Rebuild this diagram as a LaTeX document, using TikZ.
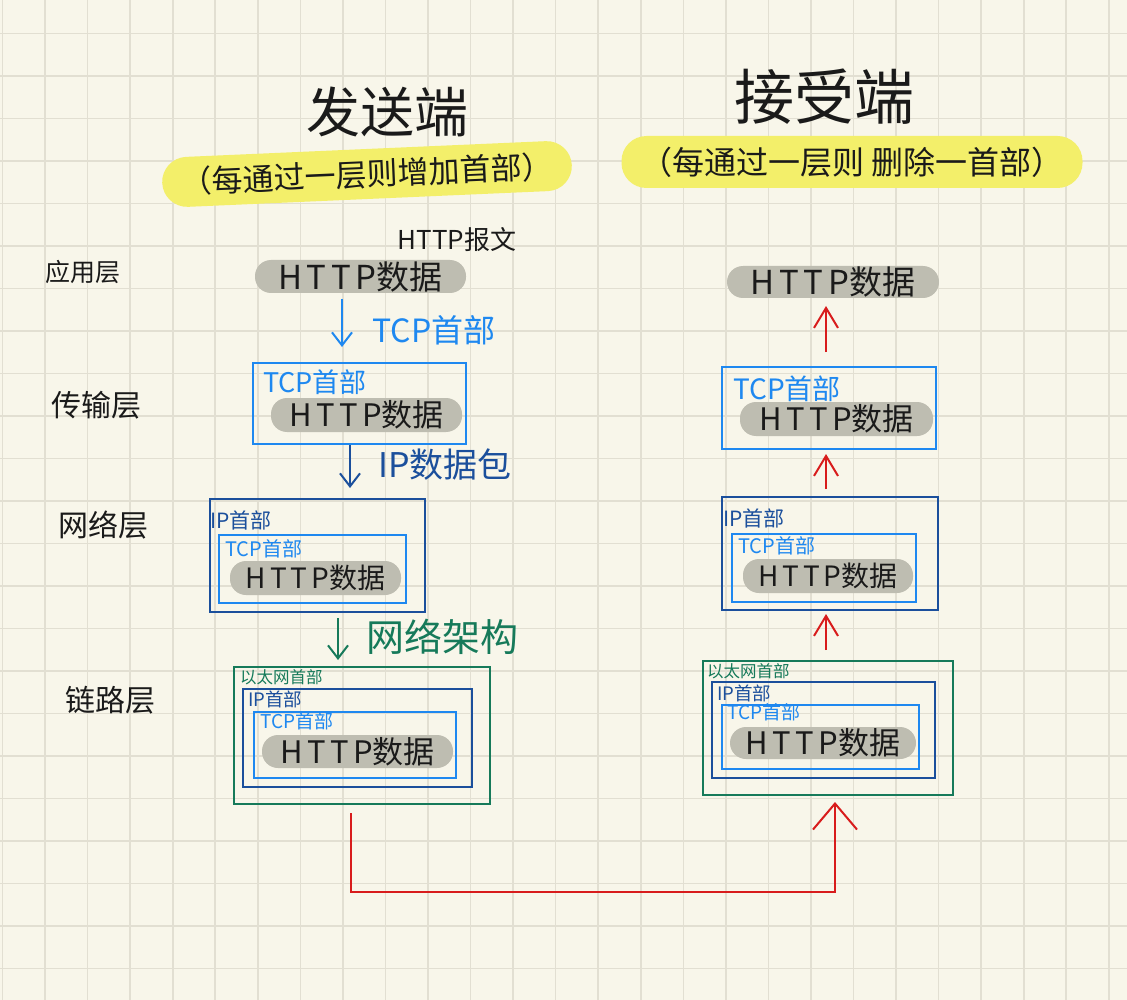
\documentclass[tikz,border=0pt]{standalone}
\usepackage{fontspec}
\newfontfamily\cjk{Noto Sans CJK SC}
\usepackage{xcolor}
\definecolor{paper}{HTML}{F8F6EA}
\definecolor{gridc}{HTML}{E2DFD2}
\definecolor{pill}{HTML}{BEBDB1}
\definecolor{ink}{HTML}{1A1A1A}
\definecolor{tcpc}{HTML}{1E88F0}
\definecolor{ipc}{HTML}{1B4F9C}
\definecolor{ethc}{HTML}{167A5A}
\definecolor{redc}{HTML}{D81C1C}
\definecolor{hl}{HTML}{F3EF6A}
\newcommand\spacedtxt[1]{{\addfontfeature{LetterSpace=14}#1}}
\usetikzlibrary{arrows.meta}
\tikzset{
  gridln/.style={draw=gridc,line width=1.6pt},
  title/.style={text=ink,inner sep=0pt},
  hilite/.style={fill=hl,rounded corners=25pt,inner sep=0pt,text=ink,font=\cjk\fontsize{31}{34}\selectfont},
  lyr/.style={text=ink,inner sep=0pt,font=\cjk\fontsize{30}{34}\selectfont},
  pillA/.style={fill=pill,rounded corners=16pt,inner sep=0pt,outer sep=0pt,text=ink,font=\cjk\fontsize{33}{36}\selectfont},
  pillB/.style={pillA,font=\cjk\fontsize{31}{34}\selectfont},
  pillC/.style={pillA,font=\cjk\fontsize{28}{32}\selectfont},
  boxfr/.style={draw,line width=2pt,inner sep=0pt,outer sep=0pt},
  tcpfr/.style={boxfr,draw=tcpc},
  ipfr/.style={boxfr,draw=ipc},
  ethfr/.style={boxfr,draw=ethc},
  hdr/.style={anchor=west,inner sep=0pt,font=\cjk\fontsize{20}{24}\selectfont},
  note/.style={inner sep=0pt,font=\cjk\fontsize{32}{36}\selectfont},
  downarr/.style={-{Straight Barb[length=13pt,width=20pt]},line width=2pt},
  uparr/.style={-{Straight Barb[length=20pt,width=24pt]},draw=redc,line width=2pt},
  bigarr/.style={-{Straight Barb[length=26pt,width=44pt]},draw=redc,line width=2pt},
}
\begin{document}
\begin{tikzpicture}[x=1pt,y=-1pt]
\useasboundingbox (0,0) rectangle (1127,1000);
\fill[paper] (0,0) rectangle (1127,1000);
\foreach \i in {0,...,26}
  \draw[gridln] ({2.5+42.55*\i},0) -- ({2.5+42.55*\i},1000);
\foreach \j in {0,...,22}
  \draw[gridln] (0,{33.5+42.5*\j}) -- (1127,{33.5+42.5*\j});

% titles
\node[title,font=\cjk\fontsize{54}{60}\selectfont] (sendT) at (387,112) {发送端};
\node[title,font=\cjk\fontsize{60}{66}\selectfont] (recvT) at (824,97) {接受端};
\node[hilite,rotate=2.5,minimum width=410pt,minimum height=50pt] (noteL) at (367,174) {（每通过一层则增加首部）};
\node[hilite,minimum width=461pt,minimum height=52pt,font=\cjk\fontsize{32}{36}\selectfont] (noteR) at (852,162) {（每通过一层则 删除一首部）};

% layers
\node[lyr,font=\cjk\fontsize{25}{30}\selectfont] (app) at (83,272) {应用层};
\node[lyr] (trans) at (96,405) {传输层};
\node[lyr] (net) at (103,525) {网络层};
\node[lyr] (link) at (110,700) {链路层};

% sender
\node[lyr,font=\cjk\fontsize{26}{30}\selectfont] (msg) at (457,240) {HTTP报文};
\node[pillA,minimum width=211pt,minimum height=33pt] (appL) at (360.5,276.5) {\spacedtxt{HTTP}数据};

\node[tcpfr,minimum width=213pt,minimum height=81pt] (tcpL) at (359.5,403.5) {};
\node[pillB,minimum width=191pt,minimum height=34pt] (tcpLd) at (366.5,415) {\spacedtxt{HTTP}数据};
\node[hdr,text=tcpc,font=\cjk\fontsize{27}{30}\selectfont] (tcpLh) at (263,382) {TCP首部};

\node[ipfr,minimum width=215pt,minimum height=113pt] (ipL) at (317.5,555.5) {};
\node[tcpfr,minimum width=187pt,minimum height=68pt] (ipLt) at (312.5,569) {};
\node[pillC,minimum width=171pt,minimum height=34pt] (ipLd) at (315.5,578) {\spacedtxt{HTTP}数据};
\node[hdr,text=ipc,font=\cjk\fontsize{21}{24}\selectfont] (ipLh) at (210,520) {IP首部};
\node[hdr,text=tcpc] (ipLth) at (225,549) {TCP首部};

\node[ethfr,minimum width=256pt,minimum height=137pt] (ethL) at (362,735.5) {};
\node[ipfr,minimum width=229pt,minimum height=98pt] (ethLi) at (357.5,738) {};
\node[tcpfr,minimum width=202pt,minimum height=66pt] (ethLt) at (355,745) {};
\node[pillB,minimum width=191pt,minimum height=33pt] (ethLd) at (357.5,751.5) {\spacedtxt{HTTP}数据};
\node[hdr,text=ethc,font=\cjk\fontsize{16.5}{20}\selectfont] (ethLh) at (240,677) {以太网首部};
\node[hdr,text=ipc,font=\cjk\fontsize{18.5}{22}\selectfont] (ethLih) at (248,699) {IP首部};
\node[hdr,text=tcpc,font=\cjk\fontsize{19}{22}\selectfont] (ethLth) at (260,721) {TCP首部};

\draw[downarr,draw=tcpc] ([xshift=-18.5pt,yshift=-6pt]appL.south) -- ([xshift=-17.5pt,yshift=16pt]tcpL.north);
\node[note,text=tcpc] (addTcp) at (434,330) {TCP首部};
\draw[downarr,draw=ipc] ([xshift=-9.5pt,yshift=-1pt]tcpL.south) -- ([xshift=32.5pt,yshift=11pt]ipL.north);
\node[note,text=ipc,font=\cjk\fontsize{34}{38}\selectfont] (addIp) at (445,465) {IP数据包};
\draw[downarr,draw=ethc] ([xshift=20.5pt,yshift=-6pt]ipL.south) -- ([xshift=-24pt,yshift=7pt]ethL.north);
\node[note,text=ethc,font=\cjk\fontsize{38}{42}\selectfont] (addEth) at (442,637) {网络架构};

% receiver
\node[pillA,minimum width=212pt,minimum height=32pt] (appR) at (833,282) {\spacedtxt{HTTP}数据};

\node[tcpfr,minimum width=214pt,minimum height=82pt] (tcpR) at (829,408) {};
\node[pillB,minimum width=193pt,minimum height=34pt] (tcpRd) at (836.5,419) {\spacedtxt{HTTP}数据};
\node[hdr,text=tcpc,font=\cjk\fontsize{28}{30}\selectfont] (tcpRh) at (733,389) {TCP首部};

\node[ipfr,minimum width=216pt,minimum height=113pt] (ipR) at (830,553.5) {};
\node[tcpfr,minimum width=184pt,minimum height=68pt] (ipRt) at (824,568) {};
\node[pillC,minimum width=170pt,minimum height=34pt] (ipRd) at (828,576) {\spacedtxt{HTTP}数据};
\node[hdr,text=ipc,font=\cjk\fontsize{21}{24}\selectfont] (ipRh) at (723,518) {IP首部};
\node[hdr,text=tcpc] (ipRth) at (738,546) {TCP首部};

\node[ethfr,minimum width=250pt,minimum height=134pt] (ethR) at (828,728) {};
\node[ipfr,minimum width=223pt,minimum height=96pt] (ethRi) at (823.5,730) {};
\node[tcpfr,minimum width=197pt,minimum height=64pt] (ethRt) at (820.5,737) {};
\node[pillB,minimum width=186pt,minimum height=32pt] (ethRd) at (823,743) {\spacedtxt{HTTP}数据};
\node[hdr,text=ethc,font=\cjk\fontsize{16.5}{20}\selectfont] (ethRh) at (707,671) {以太网首部};
\node[hdr,text=ipc,font=\cjk\fontsize{18.5}{22}\selectfont] (ethRih) at (717,693) {IP首部};
\node[hdr,text=tcpc,font=\cjk\fontsize{19}{22}\selectfont] (ethRth) at (727,712) {TCP首部};

\draw[uparr] ([xshift=-3pt,yshift=15pt]tcpR.north) -- ([xshift=-7pt,yshift=-8pt]appR.south);
\draw[uparr] ([xshift=-4pt,yshift=8pt]ipR.north) -- ([xshift=-3pt,yshift=-5pt]tcpR.south);
\draw[uparr] ([xshift=-2pt,yshift=11pt]ethR.north) -- ([xshift=-4pt,yshift=-4pt]ipR.south);

\coordinate (wire) at (593,892);
\draw[bigarr] ([xshift=-11pt,yshift=-9pt]ethL.south) |- (wire) -| ([xshift=7pt,yshift=-7pt]ethR.south);
\end{tikzpicture}
\end{document}
